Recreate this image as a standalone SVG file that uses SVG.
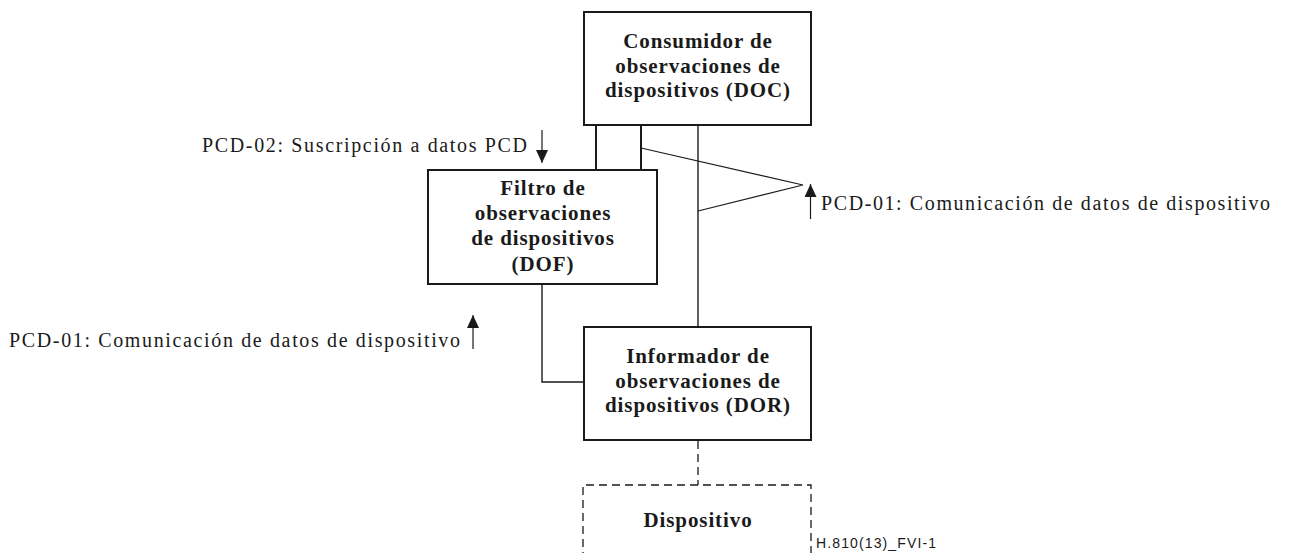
<svg xmlns="http://www.w3.org/2000/svg" width="1289" height="553" viewBox="0 0 1289 553">
  <style>
    .box { fill: #ffffff; stroke: #1a1a1a; stroke-width: 2; }
    .dash { fill: none; stroke: #1a1a1a; stroke-width: 1.3; stroke-dasharray: 8 5; }
    .wire { fill: none; stroke: #1a1a1a; stroke-width: 1.4; }
    .thin { fill: none; stroke: #1a1a1a; stroke-width: 1.1; }
    .thick { fill: none; stroke: #1a1a1a; stroke-width: 2; }
    .arrow { fill: none; stroke: #1a1a1a; stroke-width: 1.2; marker-end: url(#head); }
    .title { font-family: "Liberation Serif", "Times New Roman", serif; font-weight: bold; font-size: 21px; letter-spacing: 0.9px; fill: #1a1a1a; text-anchor: middle; }
    .label { font-family: "Liberation Serif", "Times New Roman", serif; font-size: 20px; fill: #1a1a1a; }
    .ref { font-family: "Liberation Sans", Arial, sans-serif; font-size: 14px; fill: #1a1a1a; }
  </style>
  <defs>
    <marker id="head" markerUnits="userSpaceOnUse" markerWidth="12" markerHeight="13" refX="13" refY="6" orient="auto">
      <path d="M0,0 L13,6 L0,12 z" fill="#1a1a1a"/>
    </marker>
  </defs>

  <rect width="1289" height="553" fill="#ffffff"/>

  <!-- links between the functional blocks -->
  <g id="connectors">
    <!-- PCD-02 subscription channel (small square between DOC and DOF) -->
    <path class="thick" d="M596,125 V170 M641,125 V170"/>
    <!-- PCD-01 trunk from DOR up to DOC -->
    <path class="wire" d="M698,125 V327"/>
    <!-- PCD-01 grouping wedge -->
    <path class="thin" d="M641,148 L803,185 L698,211"/>
    <!-- DOF to DOR -->
    <path class="wire" d="M542,284 V382 H584"/>
    <!-- DOR to device (optional) -->
    <path class="dash" d="M698,441 V485"/>
  </g>

  <g id="doc">
    <rect class="box" x="584" y="12" width="227" height="113"/>
    <text class="title" x="698" y="48">Consumidor de</text>
    <text class="title" x="698" y="73">observaciones de</text>
    <text class="title" x="698" y="97">dispositivos (DOC)</text>
  </g>

  <g id="dof">
    <rect class="box" x="428" y="170" width="229" height="114"/>
    <text class="title" x="543" y="195">Filtro de</text>
    <text class="title" x="543" y="220">observaciones</text>
    <text class="title" x="543" y="245">de dispositivos</text>
    <text class="title" x="543" y="271">(DOF)</text>
  </g>

  <g id="dor">
    <rect class="box" x="584" y="327" width="227" height="113"/>
    <text class="title" x="698" y="363">Informador de</text>
    <text class="title" x="698" y="388">observaciones de</text>
    <text class="title" x="698" y="412">dispositivos (DOR)</text>
  </g>

  <g id="device">
    <path class="dash" d="M583,560 V485 H811 V560"/>
    <text class="title" x="698" y="527">Dispositivo</text>
  </g>

  <g id="transactions">
    <text class="label" x="202" y="152" textLength="325" lengthAdjust="spacing">PCD-02: Suscripción a datos PCD</text>
    <path class="arrow" d="M542,130 V163"/>

    <text class="label" x="821" y="210" textLength="449" lengthAdjust="spacing">PCD-01: Comunicación de datos de dispositivo</text>
    <path class="arrow" d="M810.5,219 V184"/>

    <text class="label" x="9" y="347" textLength="451" lengthAdjust="spacing">PCD-01: Comunicación de datos de dispositivo</text>
    <path class="arrow" d="M473,349 V315"/>
  </g>

  <text class="ref" x="816" y="548" textLength="120" lengthAdjust="spacing">H.810(13)_FVI-1</text>
</svg>
